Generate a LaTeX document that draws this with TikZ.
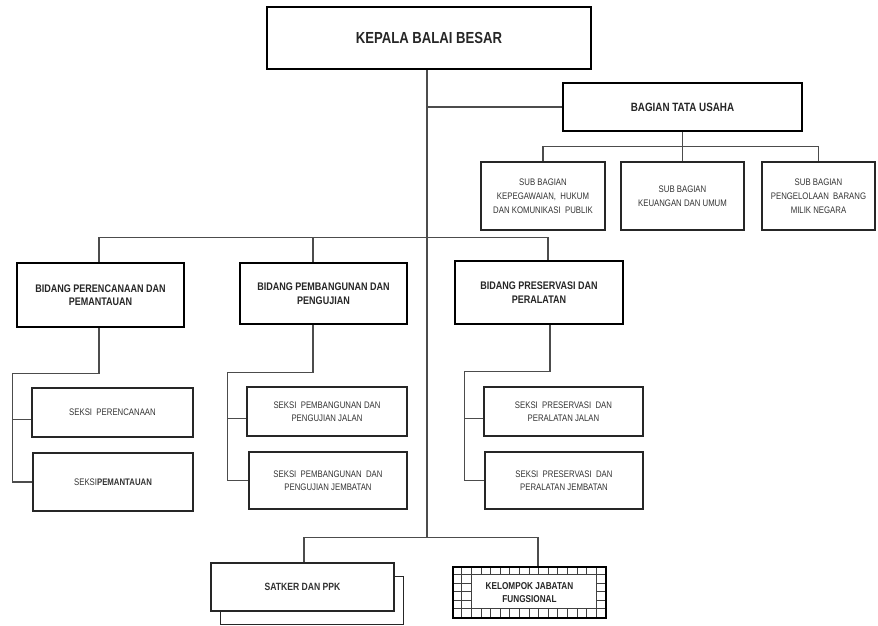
\documentclass[tikz,border=0pt]{standalone}
\usepackage{fontspec}
\setmainfont{Liberation Sans}[FakeStretch=0.82]
\usetikzlibrary{backgrounds}

\begin{document}
\begin{tikzpicture}[x=1pt,y=-1pt,
    headbox/.style={draw=black,line width=2.6pt,fill=white,align=center,inner sep=0pt,
      text=black!85,font=\bfseries\fontsize{11}{13.5}\selectfont},
    unitbox/.style={draw=black!85,line width=1.1pt,fill=white,align=center,inner sep=0pt,
      text=black!80,font=\fontsize{9.5}{13.5}\selectfont},
    link/.style={draw=black!70,line width=1.2pt}]
  \useasboundingbox (0,0) rectangle (878,625);

  % pimpinan dan tata usaha
  \node[headbox,minimum width=324pt,minimum height=62pt,font=\bfseries\fontsize{16}{19}\selectfont] (kepala) at (429,38) {KEPALA BALAI BESAR};
  \node[headbox,minimum width=239pt,minimum height=48pt,font=\bfseries\fontsize{12}{14}\selectfont] (tu) at (682.5,107) {BAGIAN TATA USAHA};
  \node[unitbox,minimum width=124pt,minimum height=68pt,font=\fontsize{9.5}{14}\selectfont] (subA) at (543,196) {SUB BAGIAN\\KEPEGAWAIAN,\ \ HUKUM\\DAN KOMUNIKASI\ \ PUBLIK};
  \node[unitbox,minimum width=123pt,minimum height=68pt,font=\fontsize{9.5}{14}\selectfont] (subB) at (682.5,196) {SUB BAGIAN\\KEUANGAN\ DAN UMUM};
  \node[unitbox,minimum width=113pt,minimum height=68pt,font=\fontsize{9.5}{14}\selectfont] (subC) at (818.5,196) {SUB BAGIAN\\PENGELOLAAN\ \ BARANG\\MILIK NEGARA};

  % bidang
  \node[headbox,minimum width=167pt,minimum height=64pt] (bidA) at (100.5,295) {BIDANG PERENCANAAN DAN\\PEMANTAUAN};
  \node[headbox,minimum width=167pt,minimum height=61pt] (bidB) at (323.5,293.5) {BIDANG PEMBANGUNAN DAN\\PENGUJIAN};
  \node[headbox,minimum width=168pt,minimum height=63pt] (bidC) at (539,292.5) {BIDANG PRESERVASI DAN\\PERALATAN};

  % seksi
  \node[unitbox,minimum width=161pt,minimum height=49pt] (sekA1) at (112.5,412.5) {SEKSI\ \ PERENCANAAN};
  \node[unitbox,minimum width=160pt,minimum height=58pt] (sekA2) at (113,482) {SEKSI\textbf{PEMANTAUAN}};
  \node[unitbox,minimum width=160pt,minimum height=49pt] (sekB1) at (327,411.5) {SEKSI\ \ PEMBANGUNAN\ DAN\\PENGUJIAN\ JALAN};
  \node[unitbox,minimum width=158pt,minimum height=57pt] (sekB2) at (328,480.5) {SEKSI\ \ PEMBANGUNAN\ \ DAN\\PENGUJIAN\ JEMBATAN};
  \node[unitbox,minimum width=159pt,minimum height=49pt] (sekC1) at (563.5,411.5) {SEKSI\ \ PRESERVASI\ \ DAN\\PERALATAN\ JALAN};
  \node[unitbox,minimum width=158pt,minimum height=57pt] (sekC2) at (564,480.5) {SEKSI\ \ PRESERVASI\ \ DAN\\PERALATAN\ JEMBATAN};

  % satker dan fungsional
  \node[unitbox,minimum width=183pt,minimum height=48pt,font=\bfseries\fontsize{10.5}{13}\selectfont] (satker) at (302.5,587) {SATKER DAN PPK};
  \draw[draw=black!85,line width=1.1pt] ([xshift=10pt]satker.south west) -- ++(0,13) -- ++(183,0) -- ++(0,-48) -- ++(-10,0);
  \node[draw=black,line width=1.8pt,minimum width=153pt,minimum height=51pt,inner sep=0pt,
    align=center,text=black!85,font=\bfseries\fontsize{10}{12.5}\selectfont] (kel) at (529.5,592.5) {KELOMPOK JABATAN\\FUNGSIONAL};
  \begin{scope}[on background layer,shift={(kel.north west)}]
    \draw[black!75,line width=0.7pt,xstep=9.6pt,ystep=8.5pt] (0,0) grid (153,51);
    \filldraw[fill=white,draw=black!75,line width=0.7pt] (19.2,8.5) rectangle (144,42.5);
  \end{scope}

  % garis komando
  \coordinate (hub) at (427,538);
  \draw[link] (kepala.south -| hub) -- (hub);
  \draw[link] (tu.west) -- (tu.west -| hub);
  \draw[link] (tu.south) -- (subB.north);
  \draw[link] (subA.north) -- ++(0,-15) -| (subC.north);

  \draw[link] ([xshift=-1.5pt]bidA.north) -- ++(0,-24) -| ([xshift=9pt]bidC.north);
  \draw[link] ([xshift=-10.5pt]bidB.north) -- ++(0,-24);

  \draw[link] ([xshift=-1.5pt]bidA.south) -- ++(0,45) -| ([xshift=-20pt]sekA2.west) -- (sekA2.west);
  \draw[link] ([xshift=-19pt,yshift=-7pt]sekA1.west) -- ([yshift=-7pt]sekA1.west);
  \draw[link] ([xshift=-10.5pt]bidB.south) -- ++(0,47) -| ([xshift=-21pt]sekB2.west) -- (sekB2.west);
  \draw[link] ([xshift=-19pt,yshift=-7pt]sekB1.west) -- ([yshift=-7pt]sekB1.west);
  \draw[link] ([xshift=11pt]bidC.south) -- ++(0,46) -| ([xshift=-20pt]sekC2.west) -- (sekC2.west);
  \draw[link] ([xshift=-19pt,yshift=-7pt]sekC1.west) -- ([yshift=-7pt]sekC1.west);

  \draw[link] ([xshift=1.5pt]satker.north) -- ++(0,-25) -| ([xshift=8.5pt]kel.north);
\end{tikzpicture}
\end{document}
